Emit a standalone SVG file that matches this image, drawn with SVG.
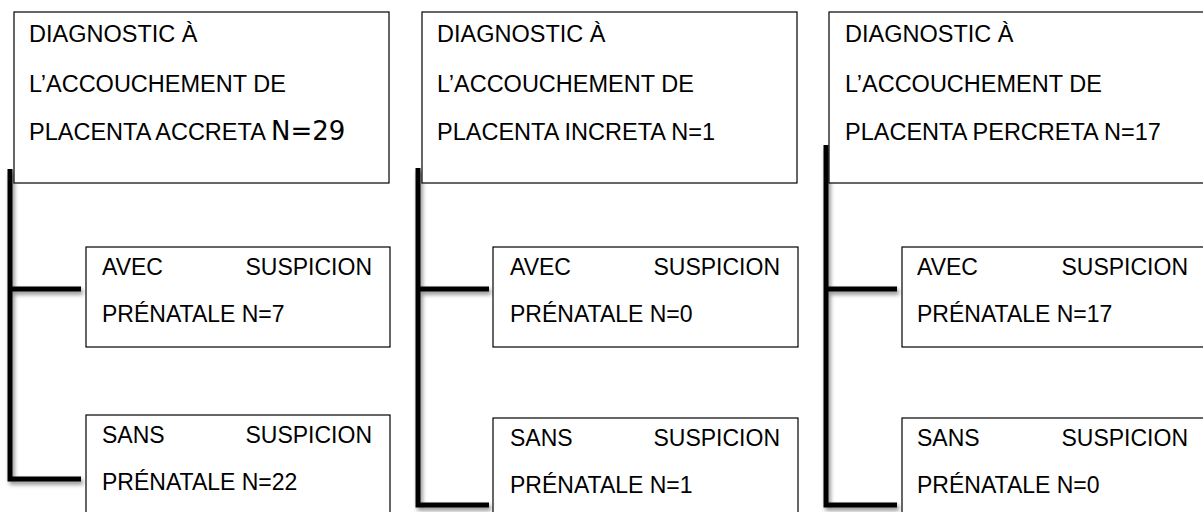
<svg xmlns="http://www.w3.org/2000/svg" width="1203" height="512" viewBox="0 0 1203 512">
<style>
.box{fill:#fff;stroke:#000;stroke-width:1.2}
.t{font-family:"Liberation Sans",Arial,sans-serif;font-size:23.5px;fill:#000}
.c{font-family:"Liberation Sans",Arial,sans-serif;font-size:23px;fill:#000}
.v{font-family:"DejaVu Sans",Verdana,sans-serif;font-size:26px}
.e{text-anchor:end}
.conn{fill:none;stroke:#000;stroke-width:5;stroke-linecap:butt;stroke-linejoin:miter}
</style>
<defs>
<filter id="sh" x="-20%" y="-20%" width="140%" height="140%">
<feDropShadow dx="2" dy="3" stdDeviation="2" flood-color="#000" flood-opacity="0.45"/>
</filter>
</defs>
<rect width="1203" height="512" fill="#fff"/>
<g id="connectors" filter="url(#sh)">
<path class="conn" d="M10,169 V479 H81 M10,289 H81"/>
<path class="conn" d="M418,168 V505 H489 M418,289 H489"/>
<path class="conn" d="M826,145 V505 H897 M826,289 H897"/>
</g>
<g id="accreta">
<rect class="box" x="14" y="12" width="375" height="171"/>
<text class="t" x="29" y="42">DIAGNOSTIC À</text>
<text class="t" x="29" y="92">L’ACCOUCHEMENT DE</text>
<text class="t" x="29" y="140">PLACENTA ACCRETA <tspan class="v">N=29</tspan></text>
</g>
<g id="accreta-avec">
<rect class="box" x="86" y="247" width="304" height="100"/>
<text class="c" x="102" y="275">AVEC</text>
<text class="c e" x="372" y="275">SUSPICION</text>
<text class="c" x="102" y="322">PRÉNATALE N=7</text>
</g>
<g id="accreta-sans">
<rect class="box" x="86" y="415" width="304" height="120"/>
<text class="c" x="102" y="443">SANS</text>
<text class="c e" x="372" y="443">SUSPICION</text>
<text class="c" x="102" y="490">PRÉNATALE N=22</text>
</g>
<g id="increta">
<rect class="box" x="422" y="12" width="375" height="171"/>
<text class="t" x="437" y="42">DIAGNOSTIC À</text>
<text class="t" x="437" y="92">L’ACCOUCHEMENT DE</text>
<text class="t" x="437" y="140">PLACENTA INCRETA N=1</text>
</g>
<g id="increta-avec">
<rect class="box" x="493" y="247" width="305" height="100"/>
<text class="c" x="510" y="275">AVEC</text>
<text class="c e" x="780" y="275">SUSPICION</text>
<text class="c" x="510" y="322">PRÉNATALE N=0</text>
</g>
<g id="increta-sans">
<rect class="box" x="493" y="418" width="305" height="120"/>
<text class="c" x="510" y="446">SANS</text>
<text class="c e" x="780" y="446">SUSPICION</text>
<text class="c" x="510" y="493">PRÉNATALE N=1</text>
</g>
<g id="percreta">
<rect class="box" x="829" y="12" width="400" height="171"/>
<text class="t" x="845" y="42">DIAGNOSTIC À</text>
<text class="t" x="845" y="92">L’ACCOUCHEMENT DE</text>
<text class="t" x="845" y="140">PLACENTA PERCRETA N=17</text>
</g>
<g id="percreta-avec">
<rect class="box" x="902" y="247" width="400" height="100"/>
<text class="c" x="917" y="275">AVEC</text>
<text class="c e" x="1188" y="275">SUSPICION</text>
<text class="c" x="917" y="322">PRÉNATALE N=17</text>
</g>
<g id="percreta-sans">
<rect class="box" x="902" y="418" width="400" height="120"/>
<text class="c" x="917" y="446">SANS</text>
<text class="c e" x="1188" y="446">SUSPICION</text>
<text class="c" x="917" y="493">PRÉNATALE N=0</text>
</g>
</svg>
